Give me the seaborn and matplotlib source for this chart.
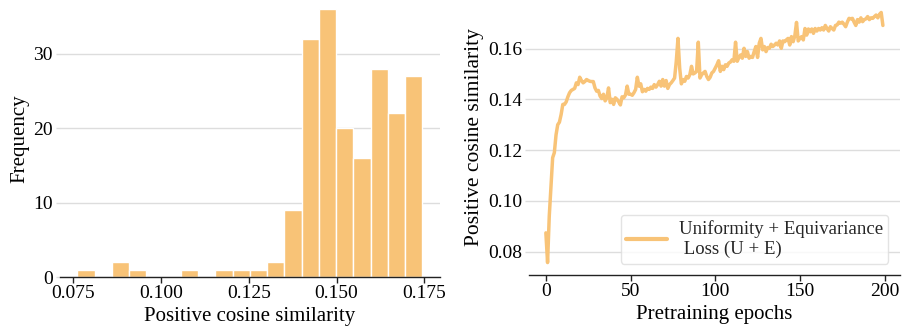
import numpy as np
import pandas as pd
import matplotlib
matplotlib.use("Agg")
import matplotlib.pyplot as plt
import seaborn as sns

# ---- data ----
sim_min, sim_max = 0.0761, 0.1745
hist_counts = [1, 0, 2, 1, 0, 0, 1, 0, 1, 1, 1, 2, 9, 32, 36, 20, 16, 28, 22, 27]

epoch_values = [
    0.0874, 0.0757, 0.0940, 0.1056, 0.1170, 0.1190, 0.1260, 0.1300, 0.1310, 0.1340,
    0.1380, 0.1380, 0.1390, 0.1410, 0.1426, 0.1435, 0.1439, 0.1443, 0.1465, 0.1458,
    0.1487, 0.1474, 0.1465, 0.1470, 0.1478, 0.1474, 0.1471, 0.1470, 0.1470, 0.1445,
    0.1432, 0.1435, 0.1413, 0.1403, 0.1420, 0.1394, 0.1406, 0.1445, 0.1387, 0.1400,
    0.1380, 0.1406, 0.1400, 0.1390, 0.1378, 0.1410, 0.1406, 0.1417, 0.1452, 0.1420,
    0.1420, 0.1416, 0.1426, 0.1439, 0.1487, 0.1452, 0.1461, 0.1430, 0.1439, 0.1432,
    0.1443, 0.1439, 0.1448, 0.1443, 0.1458, 0.1448, 0.1458, 0.1471, 0.1452, 0.1478,
    0.1452, 0.1474, 0.1443, 0.1458, 0.1465, 0.1474, 0.1484, 0.1550, 0.1640, 0.1523,
    0.1461, 0.1478, 0.1471, 0.1490, 0.1484, 0.1497, 0.1530, 0.1500, 0.1504, 0.1510,
    0.1625, 0.1484, 0.1497, 0.1504, 0.1510, 0.1490, 0.1478, 0.1487, 0.1504, 0.1510,
    0.1523, 0.1536, 0.1552, 0.1510, 0.1530, 0.1517, 0.1536, 0.1530, 0.1543, 0.1547,
    0.1556, 0.1550, 0.1625, 0.1550, 0.1565, 0.1575, 0.1562, 0.1601, 0.1569, 0.1588,
    0.1562, 0.1569, 0.1565, 0.1588, 0.1608, 0.1565, 0.1621, 0.1640, 0.1595, 0.1608,
    0.1588, 0.1604, 0.1601, 0.1617, 0.1608, 0.1614, 0.1621, 0.1614, 0.1630, 0.1601,
    0.1630, 0.1627, 0.1634, 0.1640, 0.1614, 0.1647, 0.1627, 0.1650, 0.1703, 0.1630,
    0.1640, 0.1647, 0.1634, 0.1679, 0.1653, 0.1677, 0.1666, 0.1677, 0.1660, 0.1679,
    0.1669, 0.1679, 0.1673, 0.1682, 0.1673, 0.1691, 0.1679, 0.1669, 0.1686, 0.1679,
    0.1673, 0.1691, 0.1693, 0.1704, 0.1700, 0.1704, 0.1696, 0.1686, 0.1704, 0.1719,
    0.1717, 0.1719, 0.1704, 0.1691, 0.1714, 0.1704, 0.1721, 0.1706, 0.1714, 0.1717,
    0.1726, 0.1714, 0.1721, 0.1719, 0.1726, 0.1732, 0.1721, 0.1735, 0.1742, 0.1691,
]
epochs = list(range(len(epoch_values)))

hist_xticks = [0.075, 0.100, 0.125, 0.150, 0.175]
hist_yticks = [0, 10, 20, 30]
line_xticks = [0, 50, 100, 150, 200]
line_yticks = [0.08, 0.10, 0.12, 0.14, 0.16]
legend_label = "Uniformity + Equivariance\n Loss (U + E)"

color = "#F8C377"

sns.set_theme(style="whitegrid")
plt.rcParams["font.family"] = ["Liberation Serif", "DejaVu Serif"]
plt.rcParams["mathtext.fontset"] = "stix"

fig = plt.figure(figsize=(9.02, 3.31), dpi=100)
ax1 = fig.add_axes([0.0665, 0.163, 0.421, 0.837])
ax2 = fig.add_axes([0.5865, 0.169, 0.411, 0.831])

# ---- histogram ----
nbins = len(hist_counts)
bin_w = (sim_max - sim_min) / nbins
centers = [sim_min + (i + 0.5) * bin_w for i in range(nbins)]
hdf = pd.DataFrame({"sim": centers, "count": hist_counts})
sns.histplot(data=hdf, x="sim", weights="count", bins=nbins,
             binrange=(sim_min, sim_max), ax=ax1,
             color=color, alpha=1.0, edgecolor="white", linewidth=1.0)
ax1.set_xticks(hist_xticks)
ax1.set_xticklabels([f"{t:.3f}" for t in hist_xticks])
ax1.set_yticks(hist_yticks)
ax1.set_ylim(0, 37.2)
ax1.set_xlabel("Positive cosine similarity", fontsize=15, labelpad=3)
ax1.set_ylabel("Frequency", fontsize=15, labelpad=3)

# ---- line ----
ldf = pd.DataFrame({"epoch": epochs, "sim": epoch_values})
sns.lineplot(data=ldf, x="epoch", y="sim", ax=ax2, color=color, linewidth=2.5,
             label=legend_label)
ax2.set_xticks(line_xticks)
ax2.set_yticks(line_yticks)
ax2.set_yticklabels([f"{t:.2f}" for t in line_yticks])
ax2.set_xlabel("Pretraining epochs", fontsize=15, labelpad=3)
ax2.set_ylabel("Positive cosine similarity", fontsize=15.5, labelpad=3)
leg = ax2.legend(loc="lower right", fontsize=13.5, frameon=True, handlelength=2.2,
                 borderpad=0.3, handletextpad=0.6, borderaxespad=0.6)
leg.get_frame().set_edgecolor("#dddddd")
for h in leg.get_lines():
    h.set_linewidth(3.0)

for ax in (ax1, ax2):
    ax.grid(axis="x", visible=False)
    ax.grid(axis="y", color="#dddddd", linewidth=1.0)
    ax.set_facecolor("white")
    for s in ("left", "right", "top"):
        ax.spines[s].set_visible(False)
    ax.spines["bottom"].set_visible(True)
    ax.spines["bottom"].set_color("#222222")
    ax.spines["bottom"].set_linewidth(1.0)
    ax.tick_params(axis="x", bottom=True, length=4, width=1, color="#222222",
                   labelsize=14, pad=2, labelcolor="black")
    ax.tick_params(axis="y", left=True, length=3, width=1, color="#dddddd",
                   labelsize=14, pad=2, labelcolor="black")
    ax.xaxis.label.set_color("black")
    ax.yaxis.label.set_color("black")

fig.savefig("out.png", dpi=100)
